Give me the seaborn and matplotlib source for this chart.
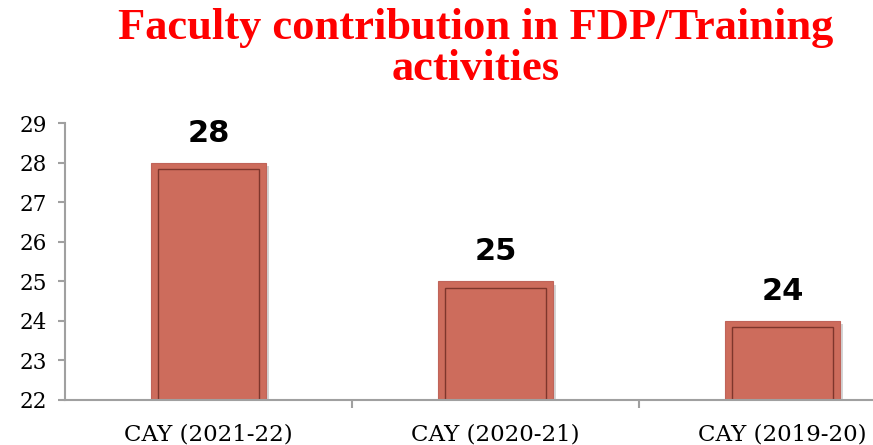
import matplotlib
matplotlib.use("Agg")
import matplotlib.pyplot as plt
import matplotlib.patches as mpatches
import matplotlib.patheffects as pe
import seaborn as sns
import pandas as pd

# ---- data ----
categories = ["CAY (2021-22)", "CAY (2020-21)", "CAY (2019-20)"]
values = [28, 25, 24]
y_ticks = [22, 23, 24, 25, 26, 27, 28, 29]
title_lines = ["Faculty contribution in FDP/Training", "activities"]

df = pd.DataFrame({"cat": categories, "val": values})

sns.set_theme(style="white")
plt.rcParams["font.family"] = ["DejaVu Serif"]

W, H = 873, 445
fig = plt.figure(figsize=(W / 100, H / 100), dpi=100)
ax_left, ax_right = 65, 65 + 3 * 287
ax_bottom, ax_top = 400, 123
ax = fig.add_axes([ax_left / W, (H - ax_bottom) / H,
                   (ax_right - ax_left) / W, (ax_bottom - ax_top) / H])

bar_color = "#CD6C5C"
sns.barplot(data=df, x="cat", y="val", ax=ax, color=bar_color,
            saturation=1, width=0.4, edgecolor="#C0645A", linewidth=0.8)

ax.set_ylim(y_ticks[0], y_ticks[-1])
ax.set_xlim(-0.5, len(categories) - 0.5)

# shadows and inner borders
xr = (len(categories)) / (ax_right - ax_left)   # data units per px (x)
yr = (y_ticks[-1] - y_ticks[0]) / (ax_bottom - ax_top)  # per px (y)
inset = 6.6
for p in list(ax.patches):
    p.set_path_effects([pe.SimplePatchShadow(offset=(2.5, -2.5), alpha=0.25,
                                             shadow_rgbFace="#555555"),
                        pe.Normal()])
    x0, y0 = p.get_x(), p.get_y()
    w, h = p.get_width(), p.get_height()
    inner = mpatches.Rectangle((x0 + inset * xr, y0 + inset * yr),
                               w - 2 * inset * xr, h - 2 * inset * yr,
                               fill=False, edgecolor="#7E362C", linewidth=1.0,
                               zorder=p.get_zorder() + 0.1)
    ax.add_patch(inner)

# value labels
for i, v in enumerate(values):
    ax.annotate(str(v), xy=(i, v), xytext=(0, 15), textcoords="offset points",
                ha="center", va="baseline", fontsize=22, fontweight="bold",
                family="DejaVu Sans", color="black")

# axes styling
for s in ["top", "right"]:
    ax.spines[s].set_visible(False)
for s in ["left", "bottom"]:
    ax.spines[s].set_color("#A0A0A0")
    ax.spines[s].set_linewidth(1.5)

ax.set_yticks(y_ticks)
ax.set_yticklabels([str(t) for t in y_ticks], fontsize=15.5, color="black")
ax.tick_params(axis="y", which="major", length=5, width=1.5, color="#A0A0A0",
               left=True, pad=8)
ax.set_xticks(range(len(categories)))
ax.set_xticklabels(categories, fontsize=16.5, color="black")
ax.tick_params(axis="x", which="major", length=0, pad=17)
ax.set_xticks([i + 0.5 for i in range(len(categories) - 1)], minor=True)
ax.tick_params(axis="x", which="minor", length=6, width=1.5, color="#A0A0A0",
               bottom=True)
ax.set_xlabel("")
ax.set_ylabel("")

baselines = [39, 80]
for line, yb in zip(title_lines, baselines):
    fig.text(476 / W, 1 - yb / H, line, ha="center", va="baseline",
             fontsize=32, fontweight="bold", color="#FF0000",
             family="Liberation Serif")

fig.savefig("out.png", dpi=100)
